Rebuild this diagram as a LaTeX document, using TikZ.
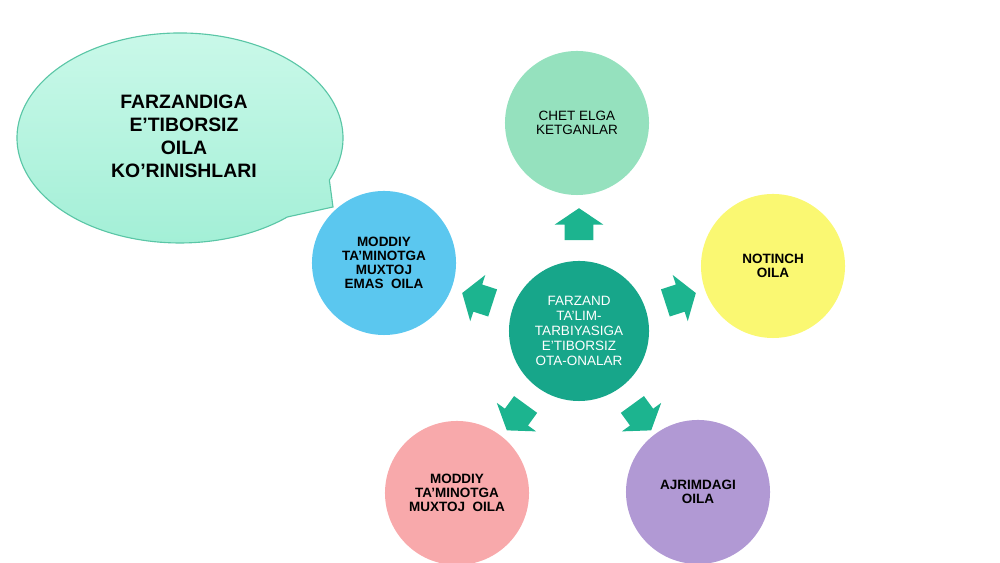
\documentclass[tikz,border=0pt]{standalone}
\usepackage{fontspec}
\setmainfont{Liberation Sans}
\usetikzlibrary{calc,shapes,arrows,positioning}

\definecolor{bubtop}{HTML}{CCF9EA}
\definecolor{bubbot}{HTML}{A2EFD6}
\definecolor{bubline}{HTML}{5AC6A6}
\definecolor{mint}{HTML}{95E1BE}
\definecolor{lemon}{HTML}{FAF872}
\definecolor{lilac}{HTML}{B199D4}
\definecolor{rose}{HTML}{F8A9AB}
\definecolor{sky}{HTML}{5BC7EF}
\definecolor{teal}{HTML}{17A68A}
\definecolor{arrowgreen}{HTML}{1CB48F}

\tikzset{
  ring/.style={circle, minimum size=3.6cm, inner sep=0pt, align=center,
    font=\fontsize{9.6}{10.1}\selectfont\bfseries},
  blockarrow/.style={single arrow, fill=arrowgreen, draw=none, inner xsep=0pt, inner ysep=0.35cm,
    minimum height=0.8cm, minimum width=1.2cm,
    single arrow head extend=0.25cm, single arrow tip angle=112},
  bubble/.style={draw=bubline, line width=0.8pt, top color=bubtop, bottom color=bubbot}
}

\begin{document}
\begin{tikzpicture}[x=0.025cm, y=0.025cm]
    \useasboundingbox (0,0) rectangle (1000,563);

    % speech bubble
    \coordinate (bubc) at (180,425);
    \coordinate (bubtip) at (333,356);
    \path[bubble] (bubtip) -- ($(bubc)+(-23.6:163 and 105)$)
        arc[start angle=-23.6, end angle=311.2, x radius=163, y radius=105] -- cycle;
    \node[align=center, font=\fontsize{13.8}{16.4}\selectfont\bfseries] (title) at (184,427)
        {FARZANDIGA\\E'TIBORSIZ\\OILA\\KO'RINISHLARI};

    % centre
    \node[ring, fill=teal, text=white, font=\fontsize{9.6}{10.7}\selectfont, minimum size=3.5cm] (ctr) at (579,232)
        {FARZAND\\TA'LIM-\\TARBIYASIGA\\E'TIBORSIZ\\OTA-ONALAR};

    % kinds of families
    \node[ring, fill=mint, font=\fontsize{9.6}{10.1}\selectfont] (abroad) at (577,440) {CHET ELGA\\KETGANLAR};
    \node[ring, fill=lemon] (unrest) at (773,297) {NOTINCH\\OILA};
    \node[ring, fill=lilac] (divorce) at (698,71) {AJRIMDAGI\\OILA};
    \node[ring, fill=rose] (needy) at (457,70) {MODDIY\\TA'MINOTGA\\MUXTOJ\ \ OILA};
    \node[ring, fill=sky] (notneedy) at (384,300) {MODDIY\\TA'MINOTGA\\MUXTOJ\\EMAS\ \ OILA};

    % arrows
    \foreach \ang/\nm in {90/up, 18/right, -54/downright, -126/downleft, 162/left}
        \node[blockarrow, rotate=\ang] (arr-\nm) at ($(ctr)+(\ang:102)$) {};

  \end{tikzpicture}
\end{document}
